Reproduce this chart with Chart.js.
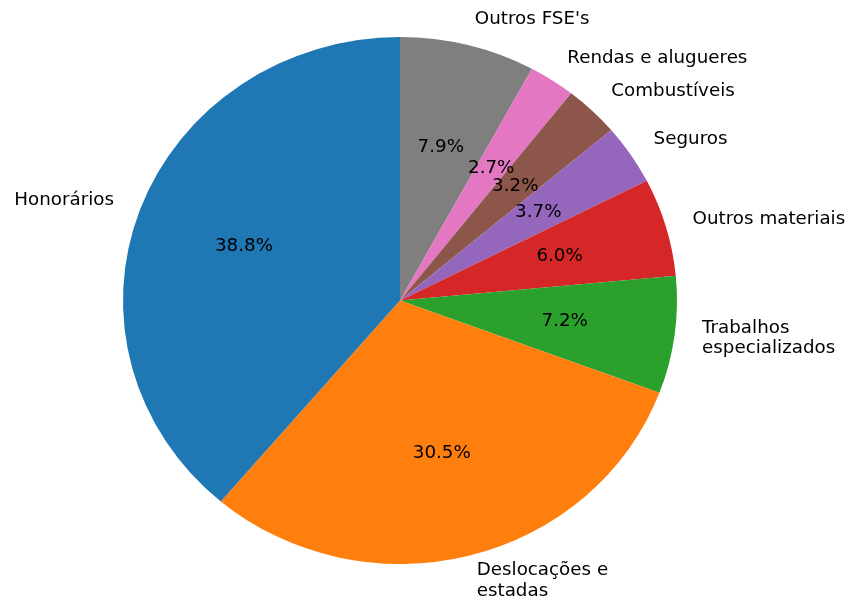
<!DOCTYPE html>
<html>
<head>
<meta charset="utf-8">
<script src="https://cdn.jsdelivr.net/npm/chart.js@4"></script>
<style>
html,body{margin:0;padding:0;background:#fff;}
canvas{display:block;}
</style>
</head>
<body>
<canvas id="c" width="851" height="602"></canvas>
<script>
// Data in matplotlib order (counter-clockwise from 12 o'clock)
const categories = ["Honorários", "Deslocações e\nestadas", "Trabalhos\nespecializados", "Outros materiais", "Seguros", "Combustíveis", "Rendas e alugueres", "Outros FSE's"];
const values = [38.8, 30.5, 7.2, 6.0, 3.7, 3.2, 2.7, 7.9];
const colors = ["#1f77b4", "#ff7f0e", "#2ca02c", "#d62728", "#9467bd", "#8c564b", "#e377c2", "#7f7f7f"];

// Chart.js draws clockwise, so reverse to mimic the counter-clockwise layout
const cjLabels = categories.slice().reverse();
const cjValues = values.slice().reverse();
const cjColors = colors.slice().reverse();

const SX = 277 / 263.5; // horizontal stretch of the whole figure (pie is elliptical in reference)
const FONT = '17.4px "DejaVu Sans"';
const LINE_H = 20.5;

function stretchedText(ctx, t, x, y) {
  ctx.save();
  ctx.translate(x, y);
  ctx.scale(SX, 1);
  ctx.fillText(t, 0, 0);
  ctx.restore();
}

const ellipsePlugin = {
  id: 'ellipse',
  beforeDatasetsDraw(chart) {
    const ctx = chart.ctx;
    const a = chart.chartArea;
    const cx = (a.left + a.right) / 2;
    ctx.save();
    ctx.translate(cx, 0);
    ctx.scale(SX, 1);
    ctx.translate(-cx, 0);
  },
  afterDatasetsDraw(chart) {
    chart.ctx.restore();
  },
  afterDraw(chart) {
    const ctx = chart.ctx;
    const meta = chart.getDatasetMeta(0);
    ctx.save();
    ctx.font = FONT;
    ctx.fillStyle = '#000';
    ctx.textBaseline = 'middle';
    meta.data.forEach((arc, i) => {
      const p = arc.getProps(['x', 'y', 'startAngle', 'endAngle', 'outerRadius'], true);
      const mid = (p.startAngle + p.endAngle) / 2;
      const c = Math.cos(mid), s = Math.sin(mid);
      // percentage
      const px = p.x + 0.6 * p.outerRadius * c * SX;
      const py = p.y + 0.6 * p.outerRadius * s;
      ctx.textAlign = 'center';
      stretchedText(ctx, cjValues[i].toFixed(1) + '%', px, py);
      // label
      const lx = p.x + 1.1 * p.outerRadius * c * SX;
      const ly = p.y + 1.1 * p.outerRadius * s;
      ctx.textAlign = c > 0 ? 'left' : 'right';
      const lines = cjLabels[i].split('\n');
      const y0 = ly - (lines.length - 1) * LINE_H / 2;
      lines.forEach((ln, k) => stretchedText(ctx, ln, lx, y0 + k * LINE_H));
    });
    ctx.restore();
  }
};

new Chart(document.getElementById('c'), {
  type: 'pie',
  data: {
    labels: cjLabels,
    datasets: [{
      data: cjValues,
      backgroundColor: cjColors,
      borderWidth: 0,
      hoverOffset: 0
    }]
  },
  options: {
    responsive: false,
    animation: false,
    events: [],
    layout: { padding: { top: 37, bottom: 38, left: 100, right: 151 } },
    plugins: { legend: { display: false }, tooltip: { enabled: false } }
  },
  plugins: [ellipsePlugin]
});
</script>
</body>
</html>
